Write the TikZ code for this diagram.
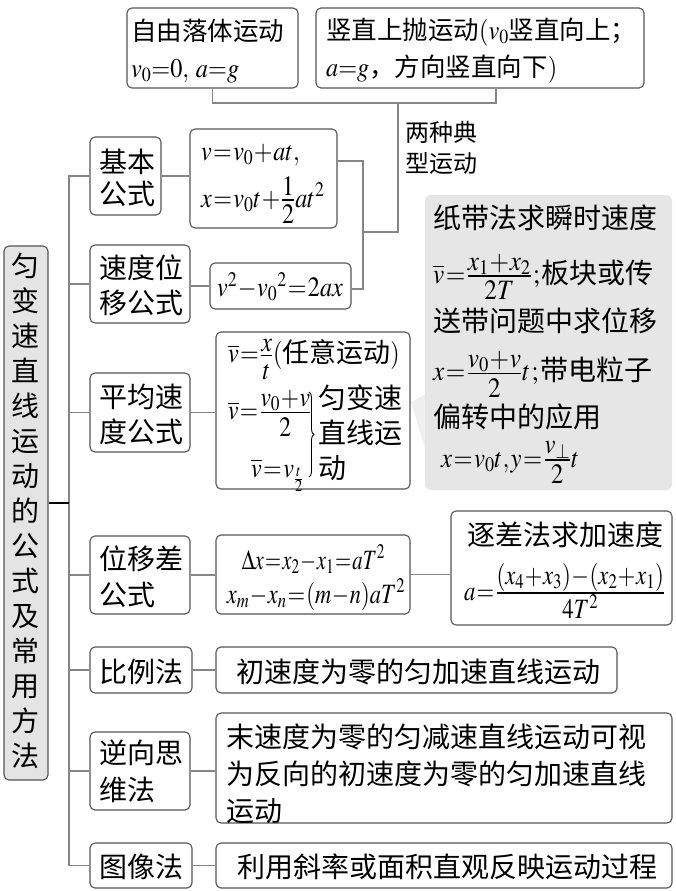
\documentclass[tikz,border=0pt]{standalone}
\usepackage{amsmath}
\usepackage{graphicx}
\usepackage{mathptmx}
\usepackage[no-math]{fontspec}
\newfontfamily\cjk{Noto Sans CJK SC}
\usetikzlibrary{decorations.pathreplacing}
\definecolor{bordc}{HTML}{555555}
\definecolor{connc}{HTML}{858585}
\definecolor{mainfill}{HTML}{E4E4E4}
\definecolor{callfill}{HTML}{E6E6E6}
\definecolor{ptrfill}{HTML}{EFEFEF}
\newcommand{\cjkfs}[2]{\cjk\fontsize{#1}{#2}\selectfont}
\newcommand{\mfs}[1]{\fontsize{#1}{#1}\selectfont}
\newcommand{\M}[2][1]{\scalebox{#1}[1]{$\thickmuskip=1mu\medmuskip=0.5mu\thinmuskip=1mu #2$}}
\newcommand{\ff}[2]{\frac{\textstyle #1\vrule width0pt depth2.5pt height0pt}{\textstyle\vrule width0pt height0.78em depth0pt #2}}
\begin{document}
\begin{tikzpicture}[x=1pt,y=-1pt,
  box/.style={draw=bordc,line width=1.1pt,rounded corners=5pt,fill=white,inner sep=0pt},
  conn/.style={draw=connc,line width=1.3pt},
  txt/.style={inner sep=0pt,align=left,font=\cjkfs{28}{35}},
  mtxt/.style={inner sep=0pt,font=\mfs{28}},
]
\fill[white] (0,0) rectangle (675,891);
\useasboundingbox (0,0) rectangle (675,891);

% boxes
\node[box,minimum width=171pt,minimum height=80pt] (A) at (212.5,48) {};
\node[box,minimum width=328pt,minimum height=80pt] (B) at (480,48) {};
\node[box,minimum width=71pt,minimum height=78pt] (Ji) at (125.5,176) {};
\node[box,minimum width=147pt,minimum height=99pt] (F1) at (263.5,178.5) {};
\node[box,minimum width=100pt,minimum height=78pt] (Sd) at (140,284) {};
\node[box,minimum width=141pt,minimum height=46pt] (F2) at (280.5,286) {};
\node[box,fill=mainfill,minimum width=44pt,minimum height=534pt] (Main) at (26,513) {};
\node[box,minimum width=100pt,minimum height=79pt] (Pj) at (140,412.5) {};
\node[box,minimum width=194pt,minimum height=157pt] (F3) at (313,410.5) {};
\node[box,minimum width=100pt,minimum height=78pt] (Wy) at (140,575) {};
\node[box,minimum width=194pt,minimum height=79pt] (F4) at (313,574.5) {};
\node[box,minimum width=221pt,minimum height=114pt] (Zc) at (561.5,568) {};
\node[box,minimum width=102pt,minimum height=46pt] (Bl) at (141,670) {};
\node[box,minimum width=401pt,minimum height=46pt] (F5) at (416.5,670) {};
\node[box,minimum width=100pt,minimum height=78pt] (Nx) at (140,771) {};
\node[box,minimum width=456pt,minimum height=110pt] (F6) at (444,768) {};
\node[box,minimum width=102pt,minimum height=45pt] (Tx) at (141,865.5) {};
\node[box,minimum width=456pt,minimum height=45pt] (F7) at (444,865.5) {};

% callout
\fill[ptrfill] (411,402) -- (427,393) -- (427,455) -- cycle;
\node[fill=callfill,rounded corners=6pt,inner sep=0pt,minimum width=247pt,minimum height=295pt] (C) at (548.5,342.5) {};

% connectors
\coordinate (tk) at (69,0);
\draw[conn] (Ji.west) -| (tk |- Tx.west) -- (Tx.west);
\foreach \n in {Sd,Pj,Wy,Bl,Nx} \draw[conn] (tk |- \n.west) -- (\n.west);
\coordinate (mc) at ([yshift=10pt]Main.east);
\draw[line width=1.3pt,black] (mc) -- (tk |- mc);
\draw[conn] (Ji.east) -- (Ji.east -| F1.west);
\draw[conn] (F2.west -| Sd.east) -- (F2.west);
\draw[conn] (Pj.east) -- (Pj.east -| F3.west);
\draw[conn] (Wy.east) -- (Wy.east -| F4.west);
\draw[conn] (F4.east) -- (F4.east -| Zc.west);
\draw[conn] (Bl.east) -- (F5.west);
\draw[conn] (Nx.east) -- (Nx.east -| F6.west);
\draw[conn] (Tx.east) -- (F7.west);
\coordinate (f1r) at ([yshift=17.5pt]F1.east);
\coordinate (f2r) at ([yshift=-3pt]F2.east);
\coordinate (br) at (363,232);
\coordinate (jn) at (398,103);
\coordinate (bb) at ([xshift=16pt]B.south);
\draw[conn] (f1r) -| (br |- f2r) -- (f2r);
\draw[conn] (br) -| (jn);
\draw[conn] (A.south) |- (jn) -| (bb);

% texts
\node[txt,font=\cjkfs{25.5}{37},anchor=west] (tA) at (131,51) {自由落体运动\\\mfs{27}\M[0.9]{v_0{=}0,\ a{=}g}};
\node[txt,font=\cjkfs{25.5}{37},anchor=west] (tB) at (326,51) {竖直上抛运动\mfs{27}\M[0.9]{(v_0}\cjkfs{25.5}{37}竖直向上；\\\mfs{27}\M[0.9]{a{=}g}\cjkfs{25.5}{37}，方向竖直向下\mfs{27}\M[0.9]{)}};
\node[txt,font=\cjkfs{24}{31},anchor=west] (lab) at (405,147.5) {两种典\\型运动};

\node[txt,font=\cjkfs{28}{35},align=center] (tMain) at (26,511) {匀\\变\\速\\直\\线\\运\\动\\的\\公\\式\\及\\常\\用\\方\\法};

\node[txt,font=\cjkfs{28}{32}] (tJi) at (127,178) {基本\\公式};
\node[txt] (tSd) at (141,285.5) {速度位\\移公式};
\node[txt] (tPj) at (141,414.5) {平均速\\度公式};
\node[txt,font=\cjkfs{28}{36}] (tWy) at (141,577) {位移差\\公式};
\node[txt] (tBl) at (141,672) {比例法};
\node[txt,font=\cjkfs{28}{37}] (tNx) at (141,771.5) {逆向思\\维法};
\node[txt] (tTx) at (141,867) {图像法};

\node[mtxt,anchor=base west] (f1a) at (201,160) {\M[0.86]{v=v_0+at,}};
\node[mtxt,anchor=base west] (f1b) at (201,207) {\M[0.86]{x=v_0t+\ff{1}{2}at^2}};
\node[mtxt] (f2) at (280,287) {\M[0.86]{v^2-v_0{}^2=2ax}};

\node[txt,font=\cjkfs{27}{35},anchor=base west] (f3a) at (228,362.5) {\mfs{28}\M[0.86]{\overline{v}=\ff{x}{t}(}\cjkfs{27}{35}任意运动\mfs{28}\M[0.86]{)}};
\node[mtxt,anchor=base west] (f3b) at (228,419.5) {\M[0.84]{\overline{v}=\ff{v_0+v}{2}}};
\node[mtxt,anchor=base west] (f3c) at (251,477) {\M[0.86]{\overline{v}=v_{\frac{t}{2}}}};
\draw[decorate,decoration={brace,amplitude=5pt},line width=0.9pt] (309,392) -- (309,477);
\node[txt,anchor=west] (f3d) at (318,433) {匀变速\\直线运\\动};

\node[mtxt,anchor=base] (f4a) at (313.5,569) {\M[0.74]{\Delta x=x_2-x_1=aT^2}};
\node[mtxt,anchor=base] (f4b) at (316,603) {\M[0.8]{x_m-x_n=(m-n)aT^2}};

\node[txt] (z1) at (565,535) {逐差法求加速度};
\node[mtxt,anchor=base] (z2) at (564.5,600) {\M[0.81]{a=\ff{(x_4+x_3)-(x_2+x_1)}{4T^2}}};

\node[txt] (t5) at (418.5,672) {初速度为零的匀加速直线运动};
\node[txt,font=\cjkfs{28}{37},anchor=west] (t6) at (226.5,774) {末速度为零的匀减速直线运动可视\\为反向的初速度为零的匀加速直线\\运动};
\node[txt] (t7) at (447,867) {利用斜率或面积直观反映运动过程};

\node[txt,anchor=base west] (c1) at (433,228.6) {纸带法求瞬时速度};
\node[txt,anchor=base west] (c2) at (433,283) {\mfs{28}\M[0.9]{\overline{v}=\ff{x_1+x_2}{2T}\,;\,}\cjkfs{28}{35}板块或传};
\node[txt,anchor=base west] (c3) at (433,331.6) {送带问题中求位移};
\node[txt,anchor=base west] (c4) at (433,380.5) {\mfs{28}\M[0.9]{x=\ff{v_0+v}{2}t\,;\,}\cjkfs{28}{35}带电粒子};
\node[txt,anchor=base west] (c5) at (433,427) {偏转中的应用};
\node[mtxt,anchor=base west] (c6) at (441,467) {\M[0.88]{x=v_0t,y=\ff{v_\perp}{2}t}};
\end{tikzpicture}
\end{document}
